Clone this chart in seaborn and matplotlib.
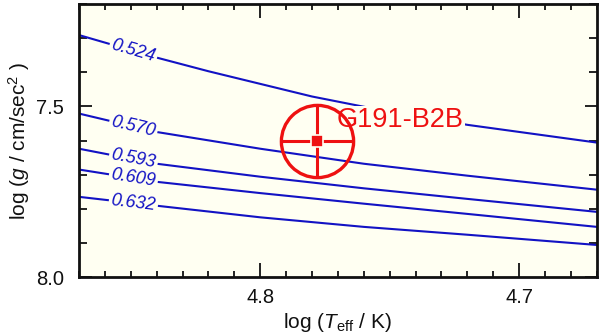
# evolutionary tracks in the log Teff - log g plane with G191-B2B marked

import numpy as np
import pandas as pd
import matplotlib
matplotlib.use('Agg')
import matplotlib.pyplot as plt
import seaborn as sns

# DATA
log_teff = [4.87, 4.84, 4.80, 4.76, 4.72, 4.67]
log_teff_524 = [4.87, 4.84, 4.82, 4.80, 4.78, 4.76, 4.72, 4.67]

masses = ['0.524', '0.570', '0.593', '0.609', '0.632']
logg_524 = [7.291, 7.357, 7.397, 7.434, 7.471, 7.501, 7.554, 7.606]
logg_570 = [7.521, 7.575, 7.624, 7.668, 7.703, 7.744]
logg_593 = [7.624, 7.668, 7.706, 7.740, 7.771, 7.809]
logg_609 = [7.685, 7.721, 7.754, 7.785, 7.815, 7.853]
logg_632 = [7.765, 7.791, 7.825, 7.853, 7.876, 7.906]
tracks = [logg_524, logg_570, logg_593, logg_609, logg_632]
track_teff = [log_teff_524, log_teff, log_teff, log_teff, log_teff]

star_name = 'G191-B2B'
star_teff = 4.778
star_logg = 7.60
star_teff_err = 0.014
star_logg_err = 0.105

label_teff = 4.849

# build long table for seaborn
rows = []
for m, tt, gg in zip(masses, track_teff, tracks):
    for t, g in zip(tt, gg):
        rows.append({'logT': t, 'logg': g, 'mass': m})
df = pd.DataFrame(rows)

# STYLE
sns.set_theme(style='ticks')
plt.rcParams['font.family'] = ['Liberation Sans', 'DejaVu Sans']
plt.rcParams['mathtext.fontset'] = 'custom'
plt.rcParams['mathtext.rm'] = 'Liberation Sans'
plt.rcParams['mathtext.it'] = 'Liberation Sans:italic'

bg = '#fffff2'
blue = '#1212c4'
red = '#ee1111'

fig = plt.figure(figsize=(6, 3.35), dpi=100)
ax = fig.add_axes([0.1317, 0.173, 0.863, 0.815])
ax.set_facecolor(bg)

sns.lineplot(data=df, x='logT', y='logg', hue='mass', palette=[blue] * len(masses),
             linewidth=1.5, legend=False, sort=False, ax=ax)

ax.set_xlim(4.87, 4.67)
ax.set_ylim(8.0, 7.2)

# track labels sitting on the lines
for m, tt, gg in zip(masses, track_teff, tracks):
    t_rev = tt[::-1]
    g_rev = gg[::-1]
    y0 = np.interp(label_teff, t_rev, g_rev)
    p1 = ax.transData.transform((label_teff + 0.01, np.interp(label_teff + 0.01, t_rev, g_rev)))
    p2 = ax.transData.transform((label_teff - 0.01, np.interp(label_teff - 0.01, t_rev, g_rev)))
    ang = np.degrees(np.arctan2(p2[1] - p1[1], p2[0] - p1[0]))
    ax.text(label_teff, y0, m, color=blue, fontsize=13, style='italic',
            family=['Liberation Sans Narrow', 'Liberation Sans', 'DejaVu Sans'],
            ha='center', va='center', rotation=ang, rotation_mode='anchor',
            bbox=dict(facecolor=bg, edgecolor='none', pad=1.5), zorder=5)

# the star
ax.errorbar([star_teff], [star_logg], xerr=[star_teff_err], yerr=[star_logg_err],
            fmt='s', color=red, ms=9, mec=bg, mew=1.2, elinewidth=2.2, capsize=0, zorder=7)
ax.plot([star_teff], [star_logg], 'o', ms=52, mfc='none', mec=red, mew=2.4, zorder=7)
ax.text(4.7705, 7.54, star_name, color=red, fontsize=19.5, ha='left', va='center',
        bbox=dict(facecolor=bg, edgecolor='none', pad=1.0), zorder=6)

# ticks on all four sides, inward
ax.set_xticks([4.8, 4.7])
ax.set_xticks(np.arange(4.67, 4.871, 0.01), minor=True)
ax.set_yticks([7.5, 8.0])
ax.set_yticks(np.arange(7.2, 8.01, 0.1), minor=True)
ax.xaxis.set_major_formatter(matplotlib.ticker.FormatStrFormatter('%.1f'))
ax.yaxis.set_major_formatter(matplotlib.ticker.FormatStrFormatter('%.1f'))
ax.tick_params(which='both', direction='in', top=True, right=True, width=1.4,
               color='#222222', labelsize=14.5, labelcolor='#111111')
ax.tick_params(axis='y', which='major', length=9, pad=11)
ax.tick_params(axis='y', which='minor', length=5.5)
ax.tick_params(axis='x', which='major', length=10, pad=8)
ax.tick_params(axis='x', which='minor', length=4.5)
for s in ax.spines.values():
    s.set_linewidth(2)
    s.set_color('#111111')

ax.set_xlabel(r'log ($T_{\rm eff}$ / K)', fontsize=15, color='#111111', labelpad=3)
ax.set_ylabel(r'log ($\mathit{g}$ / cm/sec$^2$ )', fontsize=15, color='#111111', labelpad=3)

fig.savefig('out.png', dpi=100)
